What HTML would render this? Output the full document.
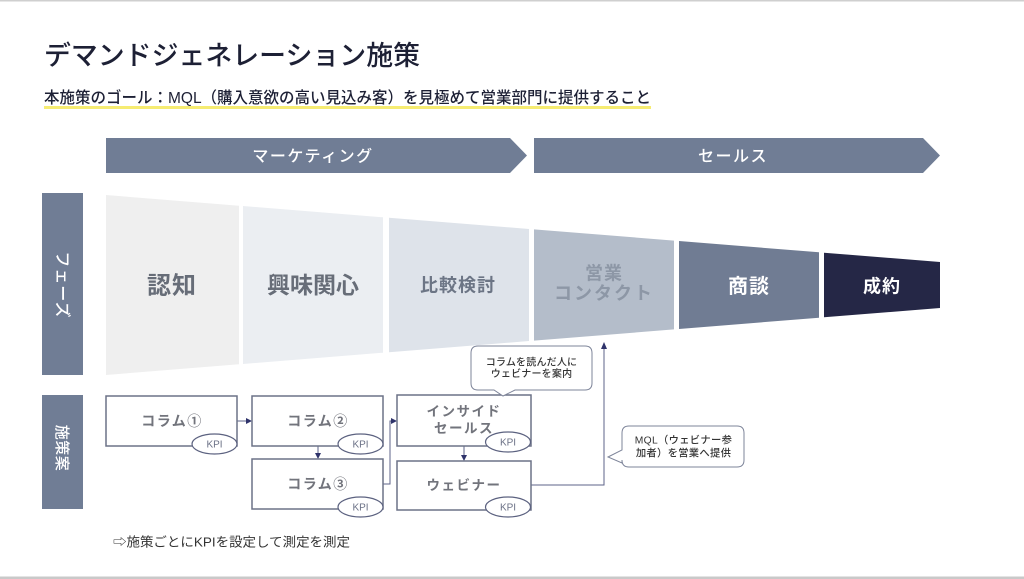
<!DOCTYPE html>
<html lang="ja">
<head>
<meta charset="utf-8">
<style>
  html,body{margin:0;padding:0;background:#fff;}
  body{width:1024px;height:579px;overflow:hidden;}
  svg{display:block;}
  text{font-family:"Liberation Sans","Noto Sans CJK JP",sans-serif;}
</style>
</head>
<body>
<svg width="1024" height="579" viewBox="0 0 1024 579" xmlns="http://www.w3.org/2000/svg">
  <!-- frame lines -->
  <rect x="0" y="0" width="1024" height="1.5" fill="#cfcfcf"/>
  <rect x="0" y="576.5" width="1024" height="2.5" fill="#c9c9c9"/>

  <!-- title -->
  <text x="44" y="65" font-size="27" fill="#1d2035" font-weight="500" textLength="376" lengthAdjust="spacingAndGlyphs">デマンドジェネレーション施策</text>

  <!-- subtitle -->
  <rect x="44" y="106" width="607" height="3" fill="#f6ec72"/>
  <text x="44" y="103" font-size="16" fill="#1d2035" font-weight="500" textLength="607" lengthAdjust="spacingAndGlyphs">本施策のゴール：MQL（購入意欲の高い見込み客）を見極めて営業部門に提供すること</text>

  <!-- banners -->
  <polygon points="106,138 510,138 527,155.5 510,173 106,173" fill="#707d95"/>
  <polygon points="534,138 923,138 940,155.5 923,173 534,173" fill="#707d95"/>
  <text x="313" y="161.5" font-size="16" fill="#ffffff" font-weight="500" text-anchor="middle" letter-spacing="1.5">マーケティング</text>
  <text x="733" y="161.5" font-size="16" fill="#ffffff" font-weight="500" text-anchor="middle" letter-spacing="1.5">セールス</text>

  <!-- left labels -->
  <rect x="42" y="193" width="41" height="182" fill="#707d95"/>
  <text transform="translate(62.5,285) rotate(90)" y="5.6" font-size="16" fill="#ffffff" font-weight="500" text-anchor="middle" letter-spacing="1">フェーズ</text>
  <rect x="42" y="395" width="41" height="114" fill="#707d95"/>
  <text transform="translate(62.5,448) rotate(90)" y="5.3" font-size="15" fill="#ffffff" font-weight="500" text-anchor="middle" letter-spacing="0.5">施策案</text>

  <!-- funnel -->
  <polygon points="106,195 239,205.7 239,364.3 106,375" fill="#efefef"/>
  <polygon points="243,206 383,217.3 383,352.7 243,364" fill="#ebeef2"/>
  <polygon points="389,217.7 529,229 529,341 389,352.3" fill="#dee3ea"/>
  <polygon points="534,229.4 674,240.6 674,329.4 534,340.6" fill="#b4bdca"/>
  <polygon points="679,241 819,252.3 819,317.7 679,329" fill="#707c93"/>
  <polygon points="824,252.7 940,262 940,308 824,317.3" fill="#252746"/>

  <text x="172" y="293.5" font-size="24" fill="#676d78" font-weight="bold" text-anchor="middle" letter-spacing="1">認知</text>
  <text x="313" y="293" font-size="23" fill="#676d78" font-weight="bold" text-anchor="middle">興味関心</text>
  <text x="458" y="291.5" font-size="18" fill="#6c7585" font-weight="bold" text-anchor="middle" letter-spacing="1">比較検討</text>
  <text x="604" y="279.3" font-size="18" fill="#8d97a6" font-weight="bold" text-anchor="middle" letter-spacing="1">営業</text>
  <text x="604" y="299.3" font-size="18" fill="#8d97a6" font-weight="bold" text-anchor="middle" letter-spacing="2">コンタクト</text>
  <text x="749" y="293" font-size="20" fill="#ffffff" font-weight="bold" text-anchor="middle" letter-spacing="1">商談</text>
  <text x="882" y="292.3" font-size="18" fill="#ffffff" font-weight="bold" text-anchor="middle" letter-spacing="1">成約</text>

  <!-- connectors -->
  <g stroke="#5d6389" stroke-width="1" fill="none">
    <line x1="237" y1="421" x2="248" y2="421"/>
    <line x1="318" y1="446" x2="318" y2="455"/>
    <polyline points="383,484 390,484 390,421 393,421"/>
    <line x1="464" y1="446" x2="464" y2="457"/>
    <polyline points="531,485 604,485 604,348"/>
  </g>
  <g fill="#2f336b">
    <polygon points="252,421 246,418 246,424"/>
    <polygon points="318,459 315,453 321,453"/>
    <polygon points="397,421 391,418 391,424"/>
    <polygon points="464,461 461,455 467,455"/>
    <polygon points="604,342 601,349 607,349"/>
  </g>

  <!-- boxes -->
  <g stroke="#6c7287" stroke-width="1.5" fill="#ffffff">
    <rect x="106" y="396" width="131" height="50"/>
    <rect x="252" y="396" width="131" height="50"/>
    <rect x="252" y="459" width="131" height="50"/>
    <rect x="397" y="395" width="134" height="51"/>
    <rect x="397" y="461" width="134" height="49"/>
  </g>
  <g font-size="14" fill="#72747c" font-weight="bold" text-anchor="middle" letter-spacing="1.5">
    <text x="172" y="426">コラム①</text>
    <text x="318" y="426">コラム②</text>
    <text x="318" y="489">コラム③</text>
  </g>
  <g font-size="13.5" fill="#72747c" font-weight="bold" text-anchor="middle" letter-spacing="1.5">
    <text x="464" y="416">インサイド</text>
    <text x="464" y="433">セールス</text>
    <text x="464" y="490">ウェビナー</text>
  </g>

  <!-- KPI ellipses -->
  <g stroke="#5c6280" stroke-width="1.2" fill="#ffffff">
    <ellipse cx="214.5" cy="444" rx="22.5" ry="10"/>
    <ellipse cx="360.5" cy="444" rx="22.5" ry="10"/>
    <ellipse cx="360.5" cy="507" rx="22.5" ry="10"/>
    <ellipse cx="508" cy="442" rx="22.5" ry="10"/>
    <ellipse cx="508" cy="507" rx="22.5" ry="10"/>
  </g>
  <g font-size="10" fill="#6b7186" text-anchor="middle">
    <text x="214.5" y="447.5">KPI</text>
    <text x="360.5" y="447.5">KPI</text>
    <text x="360.5" y="510.5">KPI</text>
    <text x="508" y="445.5">KPI</text>
    <text x="508" y="510.5">KPI</text>
  </g>

  <!-- callout 1 -->
  <path d="M478,346 H585 Q592,346 592,353 V383 Q592,390 585,390 H515 L503,396 L494,390 H478 Q471,390 471,383 V353 Q471,346 478,346 Z" fill="#ffffff" stroke="#7d8499" stroke-width="1"/>
  <g font-size="10" fill="#333333" font-weight="500" text-anchor="middle" letter-spacing="0.2">
    <text x="531.5" y="365.5">コラムを読んだ人に</text>
    <text x="531.5" y="377">ウェビナーを案内</text>
  </g>

  <!-- callout 2 -->
  <path d="M629,426 H737 Q744,426 744,433 V460 Q744,467 737,467 H629 Q622,467 622,460 V463 L608,457 L622,450 V433 Q622,426 629,426 Z" fill="#ffffff" stroke="#7d8499" stroke-width="1"/>
  <g font-size="10.3" fill="#333333" font-weight="500" text-anchor="middle" letter-spacing="0.3">
    <text x="683.5" y="443.6">MQL（ウェビナー参</text>
    <text x="683.5" y="456.6">加者）を営業へ提供</text>
  </g>

  <!-- footer note -->
  <text x="113" y="546.5" font-size="13" fill="#333333" textLength="237" lengthAdjust="spacingAndGlyphs">⇨施策ごとにKPIを設定して測定を測定</text>
</svg>
</body>
</html>
